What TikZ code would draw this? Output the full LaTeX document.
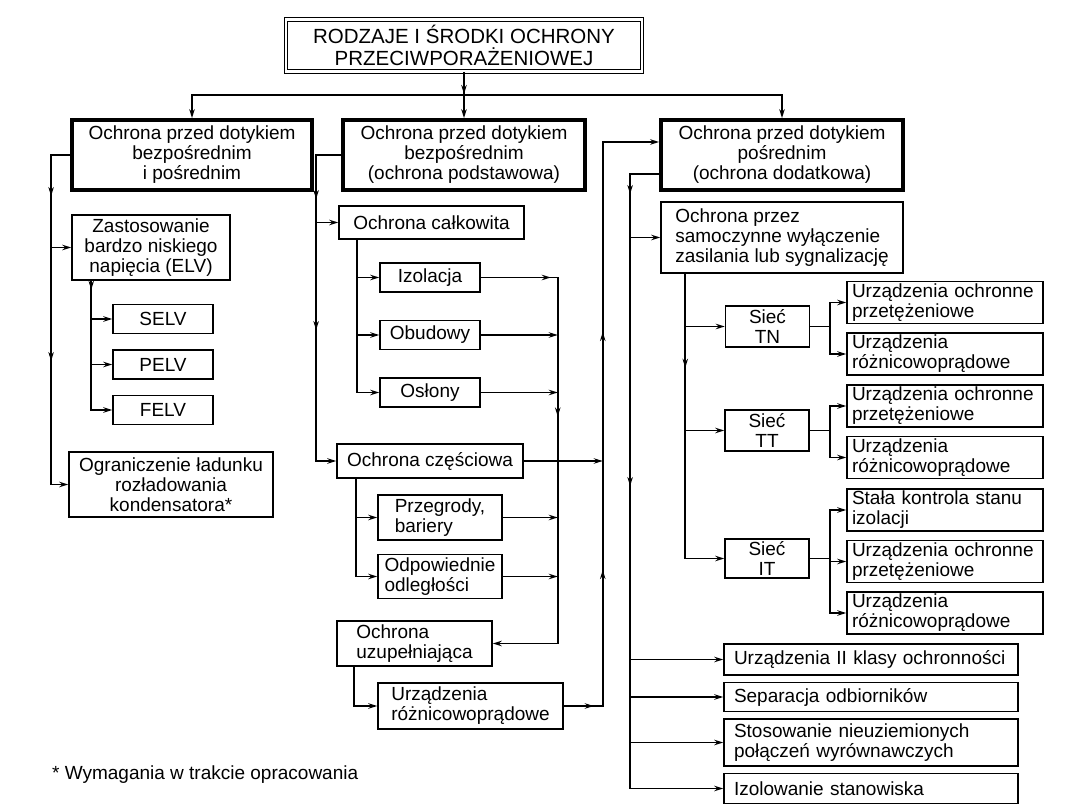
\documentclass[tikz,border=0pt]{standalone}
\usepackage{fontspec}
\setmainfont{Liberation Sans}
\usetikzlibrary{arrows.meta,positioning,calc,decorations.markings}
\tikzset{
  box/.style={draw,line width=1.5pt,inner sep=0pt,align=center},
  headbox/.style={box,line width=3.8pt,minimum width=240pt,minimum height=70pt},
  smallbox/.style={box,minimum width=100pt,minimum height=29pt},
  netbox/.style={box,minimum width=84pt,minimum height=41pt},
  devbox/.style={box,align=left,text width=186pt,minimum width=196pt,minimum height=42pt},
  longbox/.style={box,align=left,text width=274pt,minimum width=294pt},
  midarrow/.style={postaction={decorate,decoration={markings,mark=at position #1 with {\arrow{>}}}}},
}

\begin{document}
\begin{tikzpicture}[x=1pt,y=-1pt,>={Stealth[length=9pt,width=5.5pt]},line width=1.6pt,
  font=\fontsize{19}{20}\selectfont,node distance=8pt]
  \useasboundingbox (0,0) rectangle (1080,810);

  \node[box,double,double distance=2.5pt,line width=1pt,minimum width=356pt,minimum height=52pt,
    font=\fontsize{20.5}{22.5}\selectfont] (title) at (464,45.5) {RODZAJE I ŚRODKI OCHRONY\\PRZECIWPORAŻENIOWEJ};
  \node[headbox] (l1) at (192,155) {Ochrona przed dotykiem\\bezpośrednim\\i pośrednim};
  \node[headbox,minimum width=242pt] (m1) at (464,155) {Ochrona przed dotykiem\\bezpośrednim\\(ochrona podstawowa)};
  \node[headbox,minimum width=242pt] (r1) at (782,155) {Ochrona przed dotykiem\\pośrednim\\(ochrona dodatkowa)};

  % lewa kolumna
  \node[box,minimum width=158pt,minimum height=65pt] (zast) at (151,247.5) {Zastosowanie\\bardzo niskiego\\napięcia (ELV)};
  \node[smallbox] (selv) at (163,319) {SELV};
  \node[smallbox,below=15pt of selv] (pelv) {PELV};
  \node[smallbox,below=15pt of pelv] (felv) {FELV};
  \node[box,minimum width=204pt,minimum height=65pt] (ogr) at (171,484.5) {Ograniczenie ładunku\\rozładowania\\kondensatora*};

  % srodkowa kolumna
  \node[box,minimum width=185pt,minimum height=33pt] (calk) at (431.5,222.5) {Ochrona całkowita};
  \node[smallbox] (izo) at (430,277.5) {Izolacja};
  \node[smallbox,below=27pt of izo] (obu) {Obudowy};
  \node[smallbox,below=27pt of obu] (osl) {Osłony};
  \node[box,minimum width=186pt,minimum height=34pt] (cz) at (430,461) {Ochrona częściowa};
  \node[box,align=left,minimum width=124pt,minimum height=45pt] (prz) at (440,517.5) {Przegrody,\\bariery};
  \node[box,align=left,minimum width=124pt,minimum height=44pt,below=13pt of prz] (odp) {Odpowiednie\\odległości};
  \node[box,align=left,minimum width=155pt,minimum height=45pt] (uzu) at (414.5,643.5) {Ochrona\\uzupełniająca};
  \node[box,align=left,minimum width=185pt,minimum height=46pt] (urm) at (470.5,706) {Urządzenia\\różnicowoprądowe};

  % prawa kolumna
  \node[box,align=left,minimum width=242pt,minimum height=71pt] (sam) at (782,237.5) {Ochrona przez\\samoczynne wyłączenie\\zasilania lub sygnalizację};
  \node[netbox] (tn) at (767.5,326.5) {Sieć\\TN};
  \node[netbox] (tt) at (767,430.5) {Sieć\\TT};
  \node[netbox,minimum height=39pt] (it) at (767,558.5) {Sieć\\IT};
  \node[devbox] (tn1) at (945,302.5) {Urządzenia ochronne\\przetężeniowe};
  \node[devbox,below=of tn1] (tn2) {Urządzenia\\różnicowoprądowe};
  \node[devbox] (tt1) at (945,406) {Urządzenia ochronne\\przetężeniowe};
  \node[devbox,below=of tt1] (tt2) {Urządzenia\\różnicowoprądowe};
  \node[devbox] (it1) at (945,510) {Stała kontrola stanu\\izolacji};
  \node[devbox,below=of it1] (it2) {Urządzenia ochronne\\przetężeniowe};
  \node[devbox,below=of it2] (it3) {Urządzenia\\różnicowoprądowe};
  \node[longbox,minimum height=31pt] (kl2) at (871,659.5) {Urządzenia II klasy ochronności};
  \node[longbox,minimum height=29pt,below=6pt of kl2] (sep) {Separacja odbiorników};
  \node[longbox,minimum height=47pt,below=6pt of sep] (sto) {Stosowanie nieuziemionych\\połączeń wyrównawczych};
  \node[longbox,minimum height=30pt,below=6pt of sto] (izs) {Izolowanie stanowiska};

  \node[anchor=west] (note) at (48,775) {* Wymagania w trakcie opracowania};

  % polaczenia
  \draw[->,midarrow=22pt] (title.south) -- (m1.north);
  \coordinate (bus) at ($(title.south)!0.5!(m1.north)$);
  \draw[->] (bus) -| (l1.north);
  \draw[->] (bus) -| (r1.north);

  \draw[->,midarrow=60pt,midarrow=225pt] (l1.west) -- ++(-19,0) coordinate (lt) |- (ogr.west);
  \draw[->] (lt |- zast.west) -- (zast.west);
  \draw[->,midarrow=9pt] ([xshift=20pt]zast.south west) coordinate (zt) |- (felv.west);
  \draw[->] (zt |- selv.west) -- (selv.west);
  \draw[->] (zt |- pelv.west) -- (pelv.west);

  \draw[->,midarrow=69pt,midarrow=200pt] (m1.west) -- ++(-25,0) coordinate (mt) |- (cz.west);
  \draw[->] (mt |- calk.west) -- (calk.west);
  \draw[->] ([xshift=19pt]calk.south west) coordinate (ct) |- (osl.west);
  \draw[->] (ct |- izo.west) -- (izo.west);
  \draw[->] (ct |- obu.west) -- (obu.west);
  \draw[->,midarrow=70pt,midarrow=216pt] (izo.east) -- ++(77,0) coordinate (rc) |- (uzu.east);
  \foreach \n in {obu,osl,prz,odp}
    \draw[->] (\n.east) -- (rc |- \n.east);
  \draw[->,midarrow=30pt,midarrow=175pt,midarrow=413pt] (urm.east) -- ++(39,0) coordinate (rv) |- ([yshift=13pt]r1.west);
  \draw[->] (cz.east) -- (rv |- cz.east);
  \draw[->] ([xshift=20pt]cz.south west) coordinate (pt) |- (odp.west);
  \draw[->] (pt |- prz.west) -- (prz.west);
  \draw[->] ([xshift=18pt]uzu.south west) |- (urm.west);

  \draw[->,midarrow=49pt,midarrow=341pt] ([yshift=-19pt]r1.west) -- ++(-29,0) coordinate (rt) |- (izs.west);
  \foreach \n in {sam,kl2,sep,sto}
    \draw[->] (rt |- \n.west) -- (\n.west);
  \draw[->,midarrow=94pt] ([xshift=25pt]sam.south west) coordinate (st) |- (it.west);
  \draw[->] (st |- tn.west) -- (tn.west);
  \draw[->] (st |- tt.west) -- (tt.west);
  \draw (tn.east) -- ++(20,0) coordinate (tnb);
  \draw[->] (tnb) |- (tn1.west);
  \draw[->] (tnb) |- (tn2.west);
  \draw (tt.east) -- ++(20,0) coordinate (ttb);
  \draw[->] (ttb) |- (tt1.west);
  \draw[->] (ttb) |- (tt2.west);
  \draw (it.east) -- ++(20,0) coordinate (itb);
  \foreach \n in {it1,it2,it3}
    \draw[->] (itb) |- (\n.west);
\end{tikzpicture}
\end{document}
